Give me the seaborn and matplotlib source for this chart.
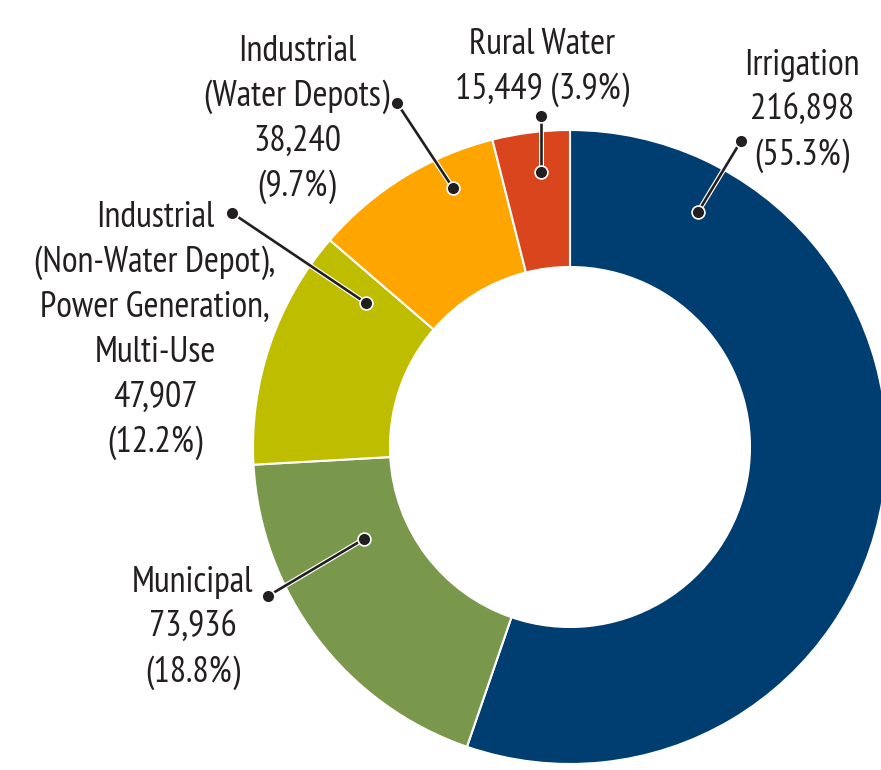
import matplotlib
matplotlib.use("Agg")
import matplotlib.pyplot as plt
import matplotlib.patheffects as pe
import seaborn as sns

categories = ["Irrigation", "Municipal",
              "Industrial\n(Non-Water Depot),\nPower Generation,\nMulti-Use",
              "Industrial\n(Water Depots)", "Rural Water"]
values = [216898, 73936, 47907, 38240, 15449]
pct_labels = ["55.3%", "18.8%", "12.2%", "9.7%", "3.9%"]
colors = ["#003e71", "#7a984c", "#bfbd00", "#fea500", "#d9461e"]

sns.set_theme(style="white")
plt.rcParams['font.family'] = ['PT Sans Narrow', 'Roboto Condensed', 'DejaVu Sans']

W, H = 881, 770
fig = plt.figure(figsize=(W / 100, H / 100), dpi=100)
ax = fig.add_axes([0, 0, 1, 1])

cx, cy, R, r_in = 570, H - 447, 317, 180
ax.pie(values, colors=colors, startangle=90, counterclock=False,
       center=(cx, cy), radius=R, frame=True,
       wedgeprops=dict(width=R - r_in, edgecolor='white', linewidth=1.5))
ax.set_xlim(0, W)
ax.set_ylim(0, H)
ax.set_aspect('equal')
ax.axis('off')

# label layout: text centre x, first baseline y (px from top), outer dot, inner dot
layout = [
    dict(x=802, y0=75, outer=(741, 141), inner=(698, 212), one_line=False),
    dict(x=193, y0=592, outer=(268, 596), inner=(364, 539), one_line=False),
    dict(x=155, y0=227, outer=(232, 213), inner=(366, 303), one_line=False),
    dict(x=297, y0=61, outer=(397, 103), inner=(453, 188), one_line=False),
    dict(x=542, y0=54, outer=(541, 116), inner=(541, 172), one_line=True),
]

fs = 26
step = 45
tcol = '#231f20'
for cat, v, p, lay in zip(categories, values, pct_labels, layout):
    if lay["one_line"]:
        lines = cat.split("\n") + [f"{v:,} ({p})"]
    else:
        lines = cat.split("\n") + [f"{v:,}", f"({p})"]
    for i, ln in enumerate(lines):
        ax.text(lay["x"], H - (lay["y0"] + i * step), ln, ha='center', va='baseline',
                fontsize=fs, color=tcol)
    (ox, oy), (ix, iy) = lay["outer"], lay["inner"]
    ax.plot([ox, ix], [H - oy, H - iy], color=tcol, lw=1.9,
            solid_capstyle='round',
            path_effects=[pe.Stroke(linewidth=3.6, foreground='white'), pe.Normal()],
            zorder=5)
    ax.scatter([ox, ix], [H - oy, H - iy], s=85, color=tcol,
               edgecolor='white', linewidth=1.2, zorder=6)

fig.savefig("out.png", dpi=100)
